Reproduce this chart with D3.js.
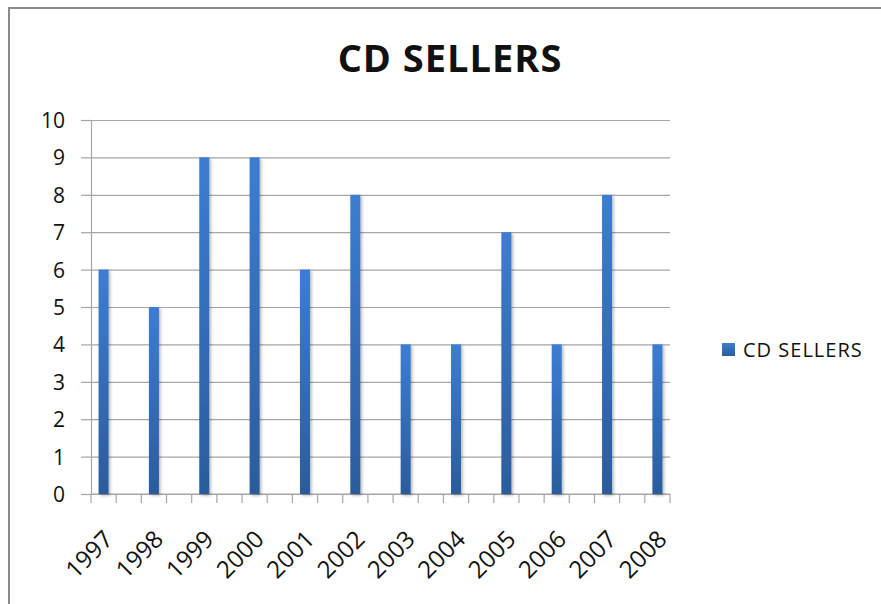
<!DOCTYPE html>
<html>
<head>
<meta charset="utf-8">
<script src="https://cdn.jsdelivr.net/npm/d3@7"></script>
<style>
  body { margin: 0; background: #fff; }
  text { font-family: "Open Sans", sans-serif; fill: #111; }
</style>
</head>
<body>
<div id="chart-area"></div>
<script>
const years = ["1997", "1998", "1999", "2000", "2001", "2002", "2003", "2004", "2005", "2006", "2007", "2008"]
const sales = [6, 5, 9, 9, 6, 8, 4, 4, 7, 4, 8, 4]
const yTicks = [0, 1, 2, 3, 4, 5, 6, 7, 8, 9, 10]
const seriesName = "CD SELLERS"

const W = 881, H = 604
const MARGIN = { LEFT: 91, RIGHT: 211, TOP: 120, BOTTOM: 110 }
const WIDTH = W - MARGIN.LEFT - MARGIN.RIGHT
const HEIGHT = H - MARGIN.TOP - MARGIN.BOTTOM

const svg = d3.select("#chart-area").append("svg")
    .attr("width", W)
    .attr("height", H)

// source sheet had a blank row between each year, so 23 slots
const slots = d3.range(years.length * 2 - 1)
const slotLabel = i => i % 2 === 0 ? years[i / 2] : ""

const defs = svg.append("defs")
const grad = defs.append("linearGradient")
    .attr("id", "barGrad")
    .attr("x1", 0).attr("y1", 0).attr("x2", 0).attr("y2", 1)
grad.append("stop").attr("offset", "0%").attr("stop-color", "#3c7dd2")
grad.append("stop").attr("offset", "100%").attr("stop-color", "#2b5c9c")
const shadow = defs.append("filter").attr("id", "shadow")
    .attr("x", "-50%").attr("y", "-5%").attr("width", "200%").attr("height", "110%")
shadow.append("feDropShadow")
    .attr("dx", 1.5).attr("dy", 1.5).attr("stdDeviation", 1.5)
    .attr("flood-color", "#000").attr("flood-opacity", 0.3)

// outer chart border
svg.append("rect")
    .attr("x", 9).attr("y", 8)
    .attr("width", W + 20).attr("height", H + 20)
    .attr("fill", "none")
    .attr("stroke", "#8a8a8a")
    .attr("stroke-width", 2)

svg.append("text")
    .attr("x", 450)
    .attr("y", 72)
    .attr("text-anchor", "middle")
    .attr("font-size", "38px")
    .attr("font-weight", "bold")
    .attr("letter-spacing", "1px")
    .text("CD SELLERS")

const g = svg.append("g")
    .attr("transform", `translate(${MARGIN.LEFT}, ${MARGIN.TOP})`)

// Scales
const xSlot = d3.scaleBand()
    .domain(slots)
    .range([0, WIDTH])

const y = d3.scaleLinear()
    .domain([0, 10])
    .range([HEIGHT, 0])

// Gridlines
g.append("g")
    .attr("class", "grid")
    .call(d3.axisLeft(y).tickValues(yTicks).tickSize(-WIDTH).tickFormat(""))
    .call(a => a.select(".domain").remove())
    .selectAll("line")
    .attr("stroke", "#a6a6a6")
    .attr("stroke-width", 1.2)

// Y Axis
const yAxisCall = d3.axisLeft(y).tickValues(yTicks).tickSize(10).tickPadding(16)
const yAxis = g.append("g")
    .attr("class", "y axis")
    .call(yAxisCall)
yAxis.select(".domain").attr("stroke", "#a6a6a6").attr("stroke-width", 1.2)
yAxis.selectAll("line").attr("stroke", "#a6a6a6").attr("stroke-width", 1.2)
yAxis.selectAll("text")
    .attr("font-size", "21px")
    .attr("dy", "0.36em")
    .attr("fill", "#111")

// X Axis: ticks at slot boundaries
const xAxisG = g.append("g")
    .attr("class", "x axis")
    .attr("transform", `translate(0, ${HEIGHT})`)
xAxisG.append("line")
    .attr("x1", 0).attr("x2", WIDTH)
    .attr("stroke", "#a6a6a6").attr("stroke-width", 1.2)
xAxisG.selectAll(".tickmark")
    .data(slots.concat([slots.length]))
    .enter().append("line")
    .attr("class", "tickmark")
    .attr("x1", d => d === slots.length ? WIDTH : xSlot(d))
    .attr("x2", d => d === slots.length ? WIDTH : xSlot(d))
    .attr("y1", 0).attr("y2", 9)
    .attr("stroke", "#a6a6a6").attr("stroke-width", 1.2)
xAxisG.selectAll(".label")
    .data(slots.filter(i => slotLabel(i) !== ""))
    .enter().append("text")
    .attr("class", "label")
    .attr("transform", d => `translate(${xSlot(d) + xSlot.bandwidth() / 2 - 1}, 35) rotate(-45)`)
    .attr("text-anchor", "end")
    .attr("font-size", "24px")
    .attr("dy", "0.7em")
    .text(d => slotLabel(d))

// Bars
g.selectAll(".bar")
    .data(years.map((yr, i) => ({ slot: i * 2, value: sales[i] })))
    .enter().append("rect")
    .attr("class", "bar")
    .attr("x", d => xSlot(d.slot) + xSlot.bandwidth() / 2 - 5)
    .attr("width", 10)
    .attr("y", d => y(d.value))
    .attr("height", d => HEIGHT - y(d.value))
    .attr("fill", "url(#barGrad)")
    .attr("filter", "url(#shadow)")

// Legend
const legend = svg.append("g")
    .attr("transform", "translate(722, 343)")
legend.append("rect")
    .attr("width", 13).attr("height", 13)
    .attr("fill", "url(#barGrad)")
legend.append("text")
    .attr("x", 21)
    .attr("y", 14)
    .attr("font-size", "20px")
    .attr("letter-spacing", "1px")
    .text(seriesName)
</script>
</body>
</html>
